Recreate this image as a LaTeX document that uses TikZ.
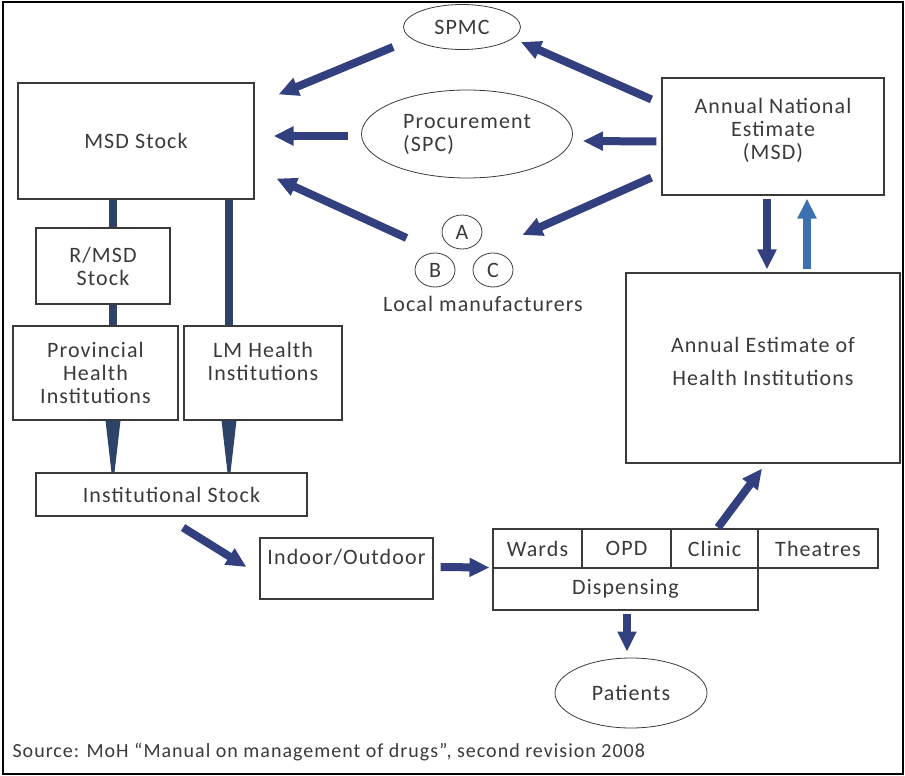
\documentclass[tikz,border=0pt]{standalone}
\usepackage{fontspec}
\setmainfont{Carlito}[LetterSpace=5]
\usetikzlibrary{shapes.geometric,arrows.meta,calc,positioning}

\definecolor{arrownavy}{HTML}{33407F}
\definecolor{barnavy}{HTML}{2D4468}
\definecolor{upblue}{HTML}{3D70AE}
\definecolor{inkgray}{HTML}{3A3A3A}

\begin{document}
\begin{tikzpicture}[x=1pt,y=-1pt,on grid,
    every node/.style={font=\fontsize{22}{23}\selectfont,text=inkgray,align=center},
    box/.style={draw=inkgray,line width=1.1pt,rectangle,inner sep=0pt},
    blob/.style={draw=inkgray,line width=0.8pt,ellipse,inner sep=0pt},
    fat/.style={line width=8pt,draw=arrownavy,-{Triangle[length=20pt,width=18pt]}},
    bar/.style={line width=8pt,draw=barnavy},
    spike/.style={draw=none,fill=barnavy,to path={([xshift=-7.5pt]\tikztostart) -- ([xshift=7.5pt]\tikztostart)
        -- ([xshift=1.5pt]\tikztotarget) -- ([xshift=-1.5pt]\tikztotarget) -- cycle}}]
    \useasboundingbox (0,0) rectangle (905,776);
    \draw[line width=2.5pt] (3,2) rectangle (903,774);

	\node[blob,minimum width=117pt,minimum height=45pt] (spmc) at (462,27) {SPMC};
	\node[blob,minimum width=211pt,minimum height=88pt,align=left] (proc) at (467,134) {Procurement\\(SPC)};
	\node[box,minimum width=236pt,minimum height=116pt] (msd) at (136,141) {MSD Stock};
	\node[box,minimum width=222pt,minimum height=117pt] (ane) at (773,136.5) {Annual National\\Estimate\\(MSD)\\[-8pt]\mbox{}};
	\node[blob,minimum width=40pt,minimum height=34pt] (lmA) at (462,232) {A};
	\node[blob,minimum width=40pt,minimum height=34pt,below left=38pt and 27pt of lmA] (lmB) {B};
	\node[blob,minimum width=40pt,minimum height=34pt,below right=38pt and 31pt of lmA] (lmC) {C};
	\node[below=34pt of lmC,xshift=-10pt] (lmtxt) {Local manufacturers};
	\node[box,minimum width=274pt,minimum height=190pt] (aehi) at (763,368) {Annual Estimate of\\[10pt]Health Institutions\\[-10pt]\mbox{}};
	\node[box,minimum width=134pt,minimum height=76pt] (rmsd) at (103,266) {R/MSD\\Stock};
	\node[box,minimum width=165pt,minimum height=94pt] (prov) at (95.5,373) {Provincial\\Health\\Institutions};
	\node[box,minimum width=158pt,minimum height=94pt] (lm) at (263,373) {LM Health\\Institutions\\\mbox{}};
	\node[box,minimum width=271pt,minimum height=43pt] (inst) at (171.5,494.5) {Institutional Stock};
	\node[box,minimum width=173pt,minimum height=61pt] (inout) at (346.5,568.5) {Indoor/Outdoor\\\mbox{}};
	\node[box,minimum width=89pt,minimum height=39pt] (wards) at (537.5,548.5) {Wards};
	\node[box,minimum width=89pt,minimum height=39pt,right=89pt of wards] (opd) {OPD};
	\node[box,minimum width=87pt,minimum height=39pt,right=88pt of opd] (clinic) {Clinic};
	\node[box,minimum width=120pt,minimum height=39pt,right=103.5pt of clinic] (theatres) {Theatres};
	\node[box,minimum width=265pt,minimum height=42pt] (disp) at (625.5,589) {Dispensing};
	\node[blob,minimum width=152pt,minimum height=70pt] (patients) at (631,693) {Patients};
	\node[anchor=west,font=\fontsize{20}{22}\selectfont] (src) at (9,752) {Source: MoH “Manual on management of drugs”, second revision 2008};

    \path ($(ane.north west)+(-10,22)$) edge[fat] ($(spmc.east)+(0,15)$)
        ($(spmc.west)+(-10,20)$) edge[fat] ($(msd.north east)+(24,12)$)
        ($(proc.west)+(-13,2)$) edge[fat] ($(msd.east)+(19,-5)$)
        ($(ane.west)+(-5,5)$) edge[fat] ($(proc.east)+(10,7)$)
        ($(ane.south west)+(-10,-18)$) edge[fat] ($(lmA.east)+(40,3)$)
        ($(lmA.west)+(-35,6)$) edge[fat] ($(msd.south east)+(22,-21)$)
        ($(ane.south)+(-6,3)$) edge[fat] ($(aehi.north)+(4,-3)$)
        ($(aehi.north)+(44,-3)$) edge[fat,draw=upblue] ($(ane.south)+(34,3)$)
        ($(msd.south)+(-23,0)$) edge[bar] ($(rmsd.north)+(10,0)$)
        ($(rmsd.south)+(10,0)$) edge[bar] ($(prov.north)+(17.5,0)$)
        ($(msd.south)+(93,0)$) edge[bar] ($(lm.north)+(-34,0)$)
        ($(prov.south)+(17.5,0)$) edge[spike] ($(inst.north)+(-58.5,0)$)
        ($(lm.south)+(-34,0)$) edge[spike] ($(inst.north)+(57.5,0)$)
        ($(inst.south)+(11.5,11)$) edge[fat] ($(inout.west)+(-13,-1.5)$)
        ($(inout.east)+(7,-1.5)$) edge[fat] ($(wards.south west)+(-3,-1)$)
        ($(clinic.north)+(3.5,-1)$) edge[fat] ($(aehi.south)+(-1,5)$)
        ($(disp.south)+(1.5,3)$) edge[fat] ($(patients.north)+(-4,-6)$);

\end{tikzpicture}
\end{document}
